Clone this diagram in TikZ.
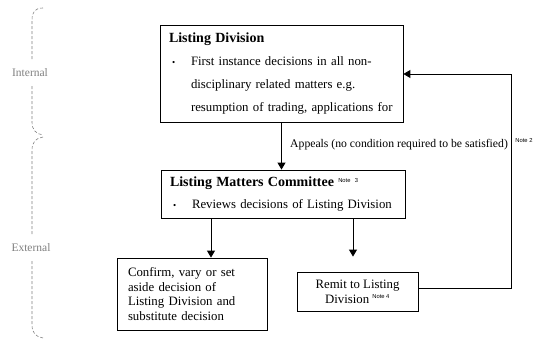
\documentclass[tikz,border=0pt]{standalone}
\usepackage{fontspec}
\setmainfont{Liberation Serif}
\setsansfont{Liberation Sans}
\usetikzlibrary{arrows.meta}
\definecolor{LMSide}{HTML}{808080}
\newcommand{\notemark}[1]{\textsuperscript{\fontsize{5.8}{6}\selectfont\sffamily\mdseries Note~#1}}
\newcommand{\bulletitem}{\hspace*{3pt}\makebox[19pt][l]{\fontsize{9}{9}\selectfont\textbullet}}

\begin{document}
\begin{tikzpicture}[x=1pt,y=-1pt,
      >={Triangle[length=7pt,width=8pt]},
      box/.style={draw,line width=0.8pt,inner sep=0pt,
        font=\fontsize{12.8}{14.7}\selectfont},
      flow/.style={->,line width=0.9pt},
      side/.style={dash pattern=on 3pt off 2pt,line width=0.6pt,draw=LMSide},
      sidetag/.style={fill=white,inner xsep=1pt,inner ysep=8pt,text=LMSide,
        font=\fontsize{11.5}{12}\selectfont}
    ]
    \path[use as bounding box] (0,0) rectangle (549,355);

    % left brackets
    \draw[side] (43,8) .. controls (35,8) and (32,12) .. (32,20) -- (32,122)
      .. controls (32,130) and (36,134) .. (43,135);
    \node[sidetag] (internal) at (30,73) {Internal};
    \draw[side] (43,137) .. controls (36,138) and (32,142) .. (32,150) -- (32,325)
      .. controls (32,333) and (36,337) .. (43,338);
    \node[sidetag] (external) at (31,248) {External};

    % boxes
    \node[box,minimum width=243pt,minimum height=97pt,text width=225pt,align=left,
      font=\fontsize{12.8}{23}\selectfont] (ld) at (281.5,74)
      {{\fontsize{14}{16}\selectfont\bfseries Listing Division}\\
       \bulletitem First instance decisions in all non-\\
       \hspace*{22pt}disciplinary related matters e.g.\\
       \hspace*{22pt}resumption of trading, applications for};
    \node[box,minimum width=244pt,minimum height=48pt,text width=226pt,align=left,
      font=\fontsize{12.8}{22}\selectfont] (lmc) at (283,194)
      {{\fontsize{14}{16}\selectfont\bfseries Listing Matters Committee} \notemark{3}\\
       \bulletitem Reviews decisions of Listing Division};
    \node[box,minimum width=150pt,minimum height=72pt,text width=128pt,align=left]
      (conf) at (192,294)
      {Confirm, vary or set\\aside decision of\\Listing Division and\\substitute decision};
    \node[box,minimum width=121pt,minimum height=39pt,align=center]
      (remit) at (357.5,291.5) {Remit to Listing\\Division \notemark{4}};

    % connectors
    \draw[flow] (ld.south) -- (lmc.north -| ld.south);
    \node[anchor=west,font=\fontsize{11.7}{14}\selectfont,inner sep=0pt]
      (appeal) at (290,145) {Appeals (no condition required to be satisfied)};
    \node[font=\fontsize{5.8}{6}\selectfont\sffamily,inner sep=0pt]
      (note2) at (524,141) {Note~2};
    \coordinate (splitL) at (211,0);
    \coordinate (splitR) at (353,0);
    \coordinate (loopback) at (511,0);
    \draw[flow] (lmc.south -| splitL) -- (conf.north -| splitL);
    \draw[flow,shorten >=15pt] (lmc.south -| splitR) -- (remit.north -| splitR);
    \draw[flow] ([yshift=3.5pt]remit.east) -| (loopback |- ld.east) -- (ld.east);
  \end{tikzpicture}
\end{document}
